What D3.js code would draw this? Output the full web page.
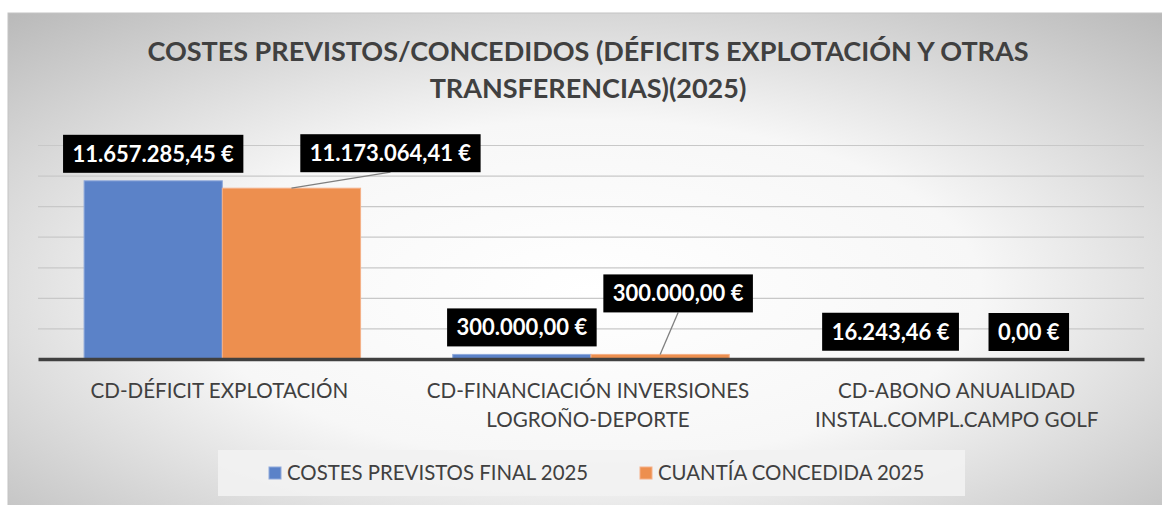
<!DOCTYPE html>
<html>
<head>
<meta charset="utf-8">
<script src="https://cdn.jsdelivr.net/npm/d3@7"></script>
<style>
  body { margin: 0; background: #fff; }
  svg { display: block; font-family: Lato, "Open Sans", sans-serif; }
</style>
</head>
<body>
<svg id="chart" width="1162" height="505"></svg>
<script>
const titleLines = ["COSTES PREVISTOS/CONCEDIDOS (DÉFICITS EXPLOTACIÓN Y OTRAS", "TRANSFERENCIAS)(2025)"];
const categories = ["CD-DÉFICIT EXPLOTACIÓN", "CD-FINANCIACIÓN INVERSIONES LOGROÑO-DEPORTE", "CD-ABONO ANUALIDAD INSTAL.COMPL.CAMPO GOLF"];
const categoryLines = [["CD-DÉFICIT EXPLOTACIÓN"], ["CD-FINANCIACIÓN INVERSIONES", "LOGROÑO-DEPORTE"], ["CD-ABONO ANUALIDAD", "INSTAL.COMPL.CAMPO GOLF"]];
const seriesNames = ["COSTES PREVISTOS FINAL 2025", "CUANTÍA CONCEDIDA 2025"];
const previstos = [11657285.45, 300000.00, 16243.46];
const concedida = [11173064.41, 300000.00, 0.00];
const yTicks = [0, 2000000, 4000000, 6000000, 8000000, 10000000, 12000000, 14000000];

// label box offsets (centre relative to bar top centre), moved by hand in the original
const labelOffsets = [
  [[0, -27], [99, -35]],
  [[0, -27], [18, -61]],
  [[0, -27], [0, -27]]
];

const colors = ["#5b82c8", "#ed8f4f"];
const svg = d3.select("#chart");
const W = 1162, H = 505;
const margin = { top: 145, right: 18, bottom: 146, left: 38 };

// background
const defs = svg.append("defs");
const grad = defs.append("radialGradient").attr("id", "bg")
  .attr("cx", "50%").attr("cy", "55%").attr("r", "75%");
grad.append("stop").attr("offset", "0%").attr("stop-color", "#ffffff");
grad.append("stop").attr("offset", "45%").attr("stop-color", "#f7f7f7");
grad.append("stop").attr("offset", "100%").attr("stop-color", "#b8b8b8");
svg.append("rect").attr("x", 8).attr("y", 13).attr("width", W).attr("height", H)
  .attr("fill", "url(#bg)").attr("stroke", "#c4c4c4");

const x0 = d3.scaleBand().domain(categories).range([margin.left, W - margin.right]);
const gap = x0.bandwidth() * 0.125;
const x1 = d3.scaleBand().domain(seriesNames).range([gap, x0.bandwidth() - gap]);
const y = d3.scaleLinear().domain([0, 14000000]).range([H - margin.bottom, margin.top]);

// title
svg.append("g").selectAll("text").data(titleLines).join("text")
  .attr("x", 588).attr("y", (d, i) => 61 + i * 37)
  .attr("text-anchor", "middle")
  .style("font-size", "27px").style("font-weight", "bold").style("fill", "#404040")
  .text(d => d);

// gridlines
svg.append("g")
  .attr("transform", `translate(${margin.left},0)`)
  .call(d3.axisLeft(y).tickValues(yTicks.slice(1)).tickSize(-(W - margin.left - margin.right)).tickFormat(""))
  .call(g => g.select(".domain").remove())
  .call(g => g.selectAll("line").attr("stroke", "#c8c8c8").attr("stroke-width", 1.2));

// bars
const rows = categories.map((c, i) => ({ cat: c, i, vals: [previstos[i], concedida[i]] }));
const groups = svg.append("g").selectAll("g").data(rows).join("g")
  .attr("transform", d => `translate(${x0(d.cat)},0)`);
groups.selectAll("rect").data(d => d.vals.map((v, s) => ({ v, s }))).join("rect")
  .attr("x", d => x1(seriesNames[d.s]))
  .attr("width", x1.bandwidth())
  .attr("y", d => y(d.v))
  .attr("height", d => y(0) - y(d.v))
  .attr("fill", d => colors[d.s])
  .attr("stroke", d => d.s === 0 ? "#8fa9dc" : "#f5b088")
  .attr("stroke-width", 1);

// x axis
const xAxis = svg.append("g")
  .attr("transform", `translate(0,${y(0)})`)
  .call(d3.axisBottom(x0).tickSize(0).tickFormat(""));
xAxis.select(".domain").attr("stroke", "#404040").attr("stroke-width", 3.5);

const catLabels = svg.append("g").selectAll("text").data(categoryLines).join("text")
  .attr("x", (d, i) => x0(categories[i]) + x0.bandwidth() / 2 - 3)
  .attr("y", 398)
  .attr("text-anchor", "middle")
  .style("font-size", "20.6px").style("fill", "#404040");
catLabels.selectAll("tspan").data(d => d).join("tspan")
  .attr("x", function () { return d3.select(this.parentNode).attr("x"); })
  .attr("dy", (d, i) => i === 0 ? 0 : 29)
  .text(d => d);

// data labels
const fmt = v => {
  const [int, dec] = v.toFixed(2).split(".");
  return int.replace(/\B(?=(\d{3})+(?!\d))/g, ".") + "," + dec + " €";
};
const labels = [];
rows.forEach(r => r.vals.forEach((v, s) => {
  const cx = x0(r.cat) + x1(seriesNames[s]) + x1.bandwidth() / 2;
  const top = y(v);
  const [dx, dy] = labelOffsets[r.i][s];
  labels.push({ text: fmt(v), bx: cx, by: top, lx: cx + dx, ly: top + dy, moved: dx !== 0 || dy < -30 });
}));
const lg = svg.append("g");
labels.forEach(d => {
  const g = lg.append("g");
  const t = g.append("text")
    .attr("x", d.lx).attr("y", d.ly + 8)
    .attr("text-anchor", "middle")
    .style("font-size", "22px").style("font-weight", "bold").style("fill", "#fff")
    .text(d.text);
  const w = t.node().getComputedTextLength() + 19;
  const h = 38;
  g.insert("rect", "text")
    .attr("x", d.lx - w / 2).attr("y", d.ly - h / 2)
    .attr("width", w).attr("height", h).attr("fill", "#000");
  if (d.moved) {
    g.insert("line", "rect")
      .attr("x1", d.lx).attr("y1", d.ly + h / 2)
      .attr("x2", d.bx).attr("y2", d.by)
      .attr("stroke", "#7f7f7f").attr("stroke-width", 1.3);
  }
});

// legend
const legend = svg.append("g");
legend.append("rect").attr("x", 218).attr("y", 450).attr("width", 747).attr("height", 46)
  .attr("fill", "#f2f2f2").attr("opacity", 0.9);
const legendX = [269, 640];
seriesNames.forEach((name, s) => {
  legend.append("rect").attr("x", legendX[s]).attr("y", 467).attr("width", 12).attr("height", 12)
    .attr("fill", colors[s]).attr("stroke", s === 0 ? "#8fa9dc" : "#f5b088");
  legend.append("text").attr("x", legendX[s] + 18).attr("y", 480)
    .style("font-size", "20.4px").style("fill", "#404040").text(name);
});
</script>
</body>
</html>
